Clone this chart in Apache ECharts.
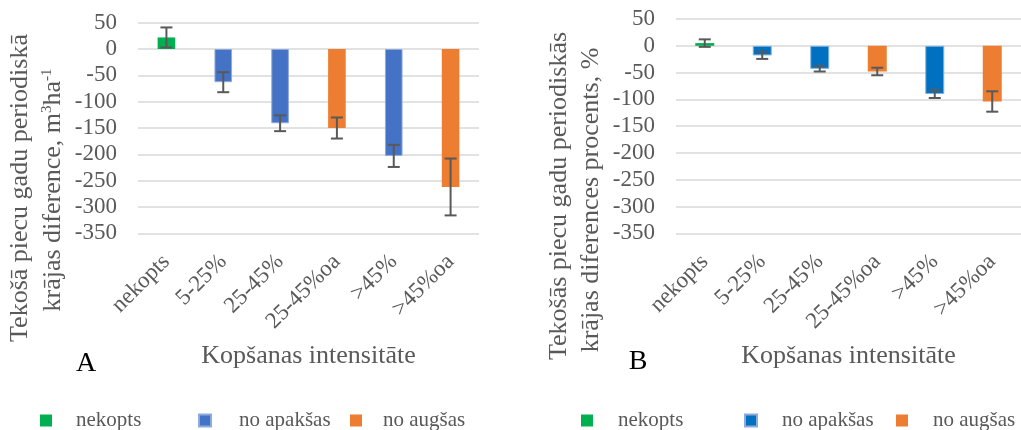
<!DOCTYPE html>
<html>
<head>
<meta charset="utf-8">
<script src="https://cdn.jsdelivr.net/npm/echarts@6/dist/echarts.min.js"></script>
<style>html,body{margin:0;padding:0;background:#fff}#c{width:1021px;height:430px}</style>
</head>
<body>
<div id="c"></div>
<script>
const categories = ['nekopts', '5-25%', '25-45%', '25-45%oa', '>45%', '>45%oa'];
const yTicks = [-350, 50, 50]; // min, max, interval

// Chart A: m3 ha-1
const aNekopts  = [22, null, null, null, null, null];
const aApaksas  = [null, -63, -141, null, -203, null];
const aAugsas   = [null, null, null, -150, null, -262];
const aErr      = [19, 19, 15, 20, 21, 54];

// Chart B: %
const bNekopts  = [5, null, null, null, null, null];
const bApaksas  = [null, -18, -43, null, -90, null];
const bAugsas   = [null, null, null, -48, null, -104];
const bErr      = [7, 6.5, 5, 7, 7.5, 19];

const FONT = 'Liberation Serif';
const GREY = '#595959';

function merged(a, b, c) { return a.map((v, i) => v != null ? v : (b[i] != null ? b[i] : c[i])); }
function errData(vals, errs) { return vals.map((v, i) => [i, v, errs[i]]); }

function errSeries(idx, vals, errs) {
  return {
    type: 'custom', xAxisIndex: idx, yAxisIndex: idx, z: 5, silent: true,
    data: errData(vals, errs),
    encode: { x: 0, y: 1 },
    renderItem: function (params, api) {
      const x = api.value(0), v = api.value(1), e = api.value(2);
      const hi = api.coord([x, v + e]);
      const lo = api.coord([x, v - e]);
      const w = 6;
      const st = { stroke: GREY, lineWidth: 2 };
      return { type: 'group', children: [
        { type: 'line', shape: { x1: hi[0], y1: hi[1], x2: lo[0], y2: lo[1] }, style: st },
        { type: 'line', shape: { x1: hi[0] - w, y1: hi[1], x2: hi[0] + w, y2: hi[1] }, style: st },
        { type: 'line', shape: { x1: lo[0] - w, y1: lo[1], x2: lo[0] + w, y2: lo[1] }, style: st }
      ]};
    }
  };
}

function xAxis(idx) {
  return {
    type: 'category', gridIndex: idx, data: categories,
    axisLine: { show: false, onZero: false }, axisTick: { show: false },
    axisLabel: { rotate: 45, interval: 0, margin: 25, fontFamily: FONT, fontSize: 23, color: GREY },
    name: 'Kopšanas intensitāte', nameLocation: 'middle', nameGap: 110,
    nameTextStyle: { fontFamily: FONT, fontSize: 26, color: GREY }
  };
}
function yAxis(idx) {
  return {
    type: 'value', gridIndex: idx, min: yTicks[0], max: yTicks[1], interval: yTicks[2],
    axisLine: { show: false }, axisTick: { show: false },
    axisLabel: { margin: 21, fontFamily: FONT, fontSize: 23, color: GREY },
    splitLine: { lineStyle: { color: '#d9d9d9', width: 1.5 } }
  };
}
function bar(idx, name, data, color, w, border) {
  return {
    type: 'bar', name: name, xAxisIndex: idx, yAxisIndex: idx, data: data,
    barWidth: w, barGap: '-100%',
    itemStyle: { color: color, borderColor: border || color, borderWidth: border ? 1 : 0 }
  };
}
function legend(left, name, color, gap) {
  return {
    left: left, top: 410, padding: 0, icon: 'rect', itemWidth: 12, itemHeight: 12,
    selectedMode: false,
    data: [{ name: name, itemStyle: { color: color } }],
    textStyle: { fontFamily: FONT, fontSize: 21, color: GREY, padding: [0, 0, 0, gap - 5] }
  };
}
function yTitle(x, y, text) {
  return {
    type: 'text', x: x, y: y, rotation: Math.PI / 2,
    style: {
      text: text, textAlign: 'center', textVerticalAlign: 'middle',
      fontFamily: FONT, fontSize: 26, fill: GREY,
      rich: { sup: { fontFamily: FONT, fontSize: 15, fill: GREY, verticalAlign: 'top' },
              n: { fontFamily: FONT, fontSize: 26, fill: GREY } }
    }
  };
}

const chart = echarts.init(document.getElementById('c'));
chart.setOption({
  animation: false,
  grid: [
    { left: 138, top: 22.7, width: 341, height: 210.6 },
    { left: 676, top: 19, width: 359, height: 214.3 }
  ],
  xAxis: [xAxis(0), xAxis(1)],
  yAxis: [yAxis(0), yAxis(1)],
  series: [
    bar(0, 'nekopts', aNekopts, '#00B050', 17.6),
    bar(0, 'no apakšas', aApaksas, '#4472C4', 17.6, '#8FAADC'),
    bar(0, 'no augšas', aAugsas, '#ED7D31', 17.6),
    errSeries(0, merged(aNekopts, aApaksas, aAugsas), aErr),
    bar(1, 'nekopts', bNekopts, '#00B050', 19),
    bar(1, 'no apakšas', bApaksas, '#0070C0', 19, '#7FB3DF'),
    bar(1, 'no augšas', bAugsas, '#ED7D31', 19),
    errSeries(1, merged(bNekopts, bApaksas, bAugsas), bErr)
  ],
  legend: [
    legend(40, 'nekopts', '#00B050', 24),
    legend(198, 'no apakšas', '#4472C4', 28),
    legend(350, 'no augšas', '#ED7D31', 21),
    legend(581, 'nekopts', '#00B050', 25),
    legend(744, 'no apakšas', '#0070C0', 25),
    legend(896, 'no augšas', '#ED7D31', 25)
  ],
  graphic: [
    yTitle(20, 188, '{n|Tekošā piecu gadu periodiskā}'),
    yTitle(53, 190, '{n|krājas diference, m}{sup|3}{n|ha}{sup|-1}'),
    yTitle(559, 196, '{n|Tekošās piecu gadu periodiskās}'),
    yTitle(591, 200, '{n|krājas diferences procents, %}'),
    { type: 'text', x: 86, y: 364, style: { text: 'A', textAlign: 'center', textVerticalAlign: 'middle', fontFamily: FONT, fontSize: 28, fill: '#000' } },
    { type: 'text', x: 638, y: 362, style: { text: 'B', textAlign: 'center', textVerticalAlign: 'middle', fontFamily: FONT, fontSize: 28, fill: '#000' } }
  ]
});
</script>
</body>
</html>
